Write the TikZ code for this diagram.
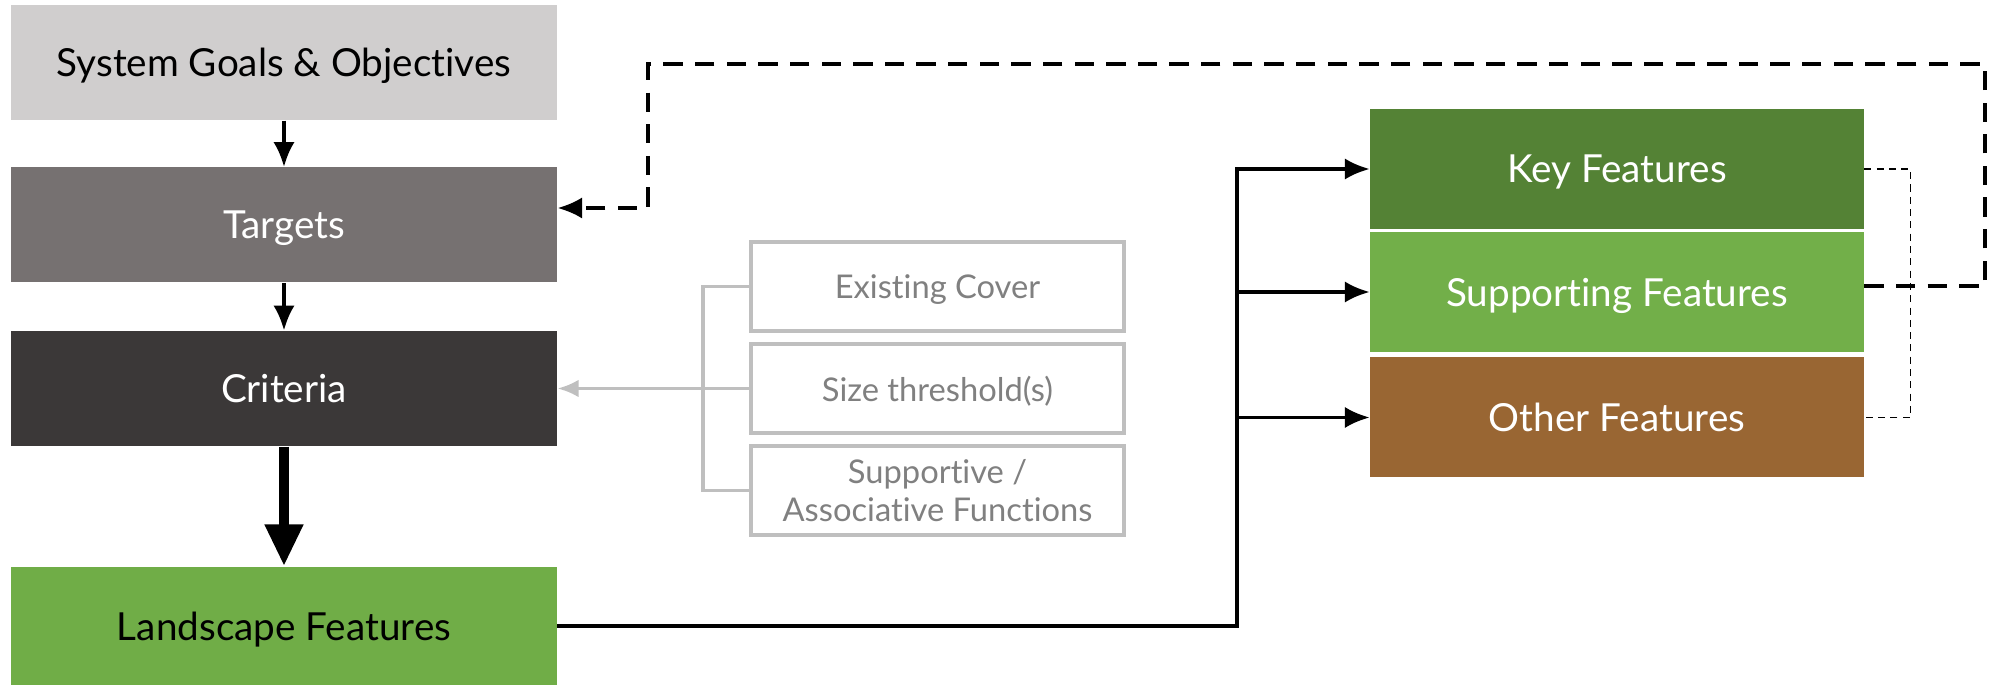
\documentclass[tikz,border=0pt]{standalone}
\usepackage{fontspec}
\setmainfont{Lato}[Ligatures={NoCommon}]
\usetikzlibrary{arrows.meta}

\definecolor{goalgrey}{HTML}{D0CECE}
\definecolor{targetgrey}{HTML}{767171}
\definecolor{critdark}{HTML}{3B3838}
\definecolor{landgreen}{HTML}{70AD47}
\definecolor{keygreen}{HTML}{548235}
\definecolor{supgreen}{HTML}{72AF49}
\definecolor{otherbrown}{HTML}{996633}
\definecolor{critline}{HTML}{BFBFBF}
\definecolor{crittext}{HTML}{808080}

\begin{document}
\begin{tikzpicture}
            \tikzstyle{block}=[rectangle,inner sep=0pt,text depth=0pt,minimum width=5.455cm,minimum height=1.15cm,font=\fontsize{11}{13}\selectfont]
            \tikzstyle{critbox}=[rectangle,draw=critline,line width=1pt,inner sep=0pt,text depth=0pt,minimum width=3.73cm,minimum height=0.89cm,align=center,text=crittext,font=\fontsize{9.3}{11}\selectfont]
            \tikzstyle{feature}=[rectangle,inner sep=0pt,text depth=0pt,minimum width=4.935cm,minimum height=1.2cm,text=white,font=\fontsize{11}{13}\selectfont]
            \tikzstyle{flow}=[line width=0.9pt,-{Latex[length=7pt,width=6pt]}]
            \useasboundingbox (0,0) rectangle (19.99,-6.85);
            % left column
            \node[block,fill=goalgrey] (goals) at (2.84,-0.625) {System Goals \& Objectives};
            \node[block,fill=targetgrey,text=white] (targets) at (2.84,-2.25) {Targets};
            \node[block,fill=critdark,text=white] (criteria) at (2.84,-3.885) {Criteria};
            \node[block,fill=landgreen,minimum height=1.18cm] (landscape) at (2.84,-6.26) {Landscape Features};
            % criteria list
            \node[critbox] (cover) at (9.375,-2.865) {Existing Cover};
            \node[critbox] (size) at (9.375,-3.885) {Size threshold(s)};
            \node[critbox] (support) at (9.375,-4.905) {Supportive /\\Associative Functions};
            % feature classes
            \node[feature,fill=keygreen] (key) at (16.17,-1.69) {Key Features};
            \node[feature,fill=supgreen] (supporting) at (16.17,-2.92) {Supporting Features};
            \node[feature,fill=otherbrown] (other) at (16.17,-4.175) {Other Features};
            \coordinate (fork) at (12.37,-6.26);
            \coordinate (loopright) at (19.85,-0.64);
            \coordinate (loopleft) at (6.48,-2.08);

            \draw[flow] (goals) -- (targets);
            \draw[flow] (targets) -- (criteria);
            \draw[line width=3pt,-{Triangle[length=0.42cm,width=0.36cm]}] (criteria) -- (landscape);
            \draw[critline,line width=1pt] (cover.west) -- ++(-0.46,0) |- (support.west);
            \draw[critline,line width=1pt,-{Latex[length=6pt,width=5pt]}] (size.west) -- (criteria.east);
            \draw[flow] (landscape.east) -- (fork) |- (key.west);
            \draw[flow] (fork) |- (supporting.west);
            \draw[flow] (fork) |- (other.west);
            \draw[line width=1pt,dash pattern=on 5.5pt off 3.5pt,-{Latex[length=7pt,width=6pt]}] ([yshift=0.06cm]supporting.east) -| (loopright) -| (loopleft) -- ([yshift=0.17cm]targets.east);
            \draw[line width=0.4pt,dash pattern=on 2pt off 1.5pt] (key.east) -- ++(0.46,0) |- (other.east);
        \end{tikzpicture}
\end{document}
